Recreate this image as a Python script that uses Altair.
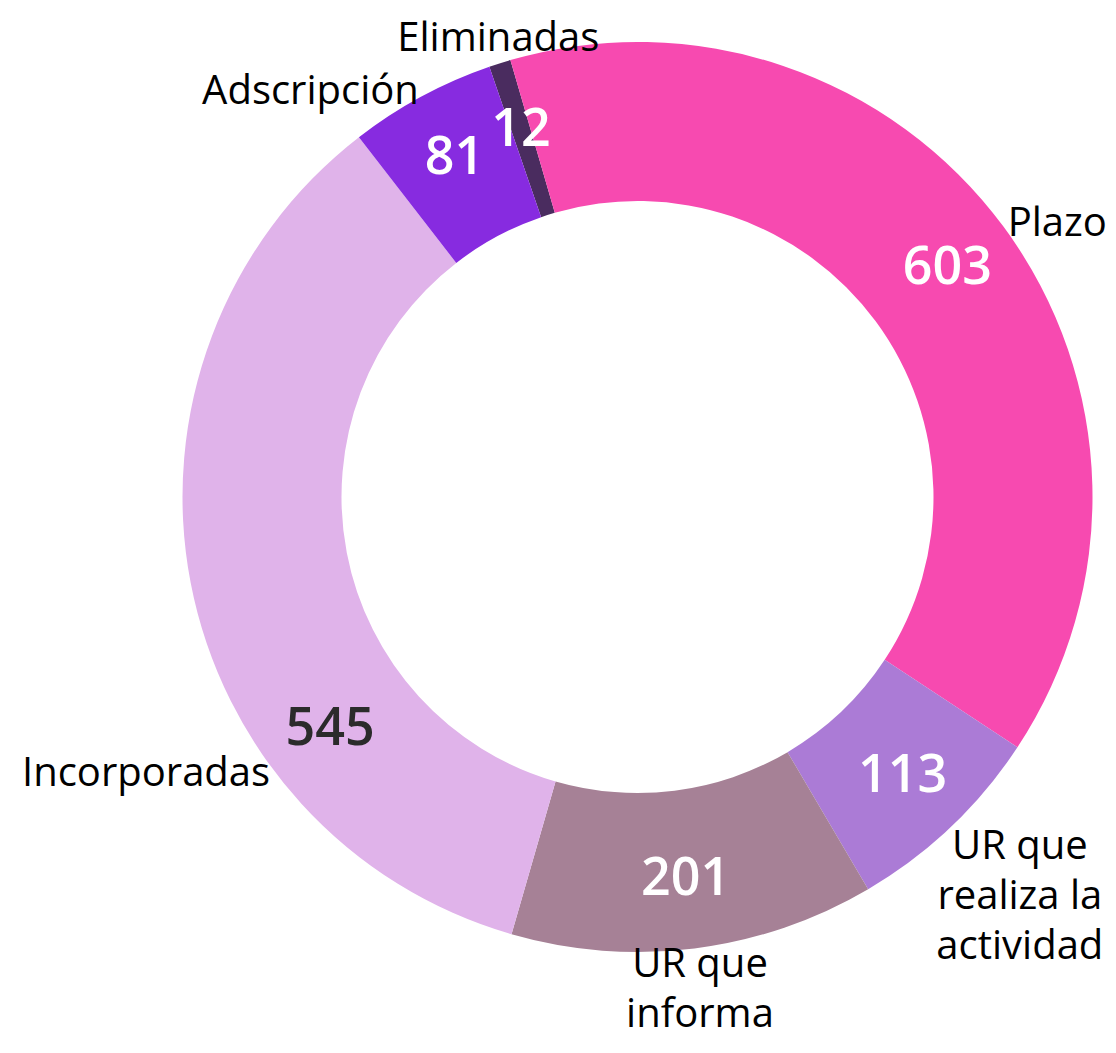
import math
import altair as alt
import pandas as pd

# ---- data ----
categories = ["Eliminadas", "Plazo", "UR que realiza la actividad",
              "UR que informa", "Incorporadas", "Adscripción"]
labels = ["Eliminadas", "Plazo", "UR que|realiza la|actividad",
          "UR que|informa", "Incorporadas", "Adscripción"]
values = [12, 603, 113, 201, 545, 81]
colors = ["#4A2C5F", "#F74AB0", "#AB7BD6", "#A68196", "#E0B3EA", "#872BE0"]

df = pd.DataFrame({
    "idx": list(range(len(categories))),
    "category": categories,
    "label": labels,
    "value": values,
})

# ---- layout ----
START = math.radians(-19)          # rotation of the first slice
CX, CY = 629.5, 489                # pie centre inside the view
R_OUT, R_IN = 455, 296
R_VAL, R_LAB, R_BOX = 385, 460, 444
# labels whose mid-angle falls near 9 o'clock are moved down-left (as in the reference)
LO, HI, MOVED = math.radians(240), math.radians(300), math.radians(233)

FONT = "Open Sans"
LAB_SIZE, LINE_H, CHAR_W = 40, 50, 20.5

base = alt.Chart(df).encode(x=alt.value(CX), y=alt.value(CY))

arcs = base.mark_arc(outerRadius=R_OUT, innerRadius=R_IN).encode(
    theta=alt.Theta("value:Q", stack=True,
                    scale=alt.Scale(range=[START, START + 2 * math.pi])),
    color=alt.Color("category:N",
                    scale=alt.Scale(domain=categories, range=colors),
                    legend=None),
    order=alt.Order("idx:Q"),
)

ang = (
    base.transform_window(cum="sum(value)", sort=[alt.SortField("idx")],
                          frame=[None, 0])
    .transform_joinaggregate(total="sum(value)")
    .transform_calculate(
        mid=f"{START} + 2*PI*(datum.cum - datum.value/2)/datum.total")
    .transform_calculate(
        ang=f"(datum.mid > {LO} && datum.mid < {HI}) ? {MOVED} : datum.mid")
    .transform_calculate(sx="sin(datum.ang)")
    .transform_calculate(cy="cos(datum.ang)")
    # text-box size estimate, used to keep multi-line labels clear of the ring
    .transform_calculate(nl="length(split(datum.label, '|'))")
    .transform_calculate(
        bw=f"(length(datum.label) - (datum.nl - 1)) / datum.nl * {CHAR_W}")
    .transform_calculate(bh=f"(datum.nl - 1) * {LINE_H} + {LAB_SIZE * 1.1}")
    .transform_calculate(
        rl=f"{R_BOX} + 0.5*datum.bw*abs(datum.sx) + 0.5*datum.bh*abs(datum.cy)")
    # top-centre of the box, back to polar form
    .transform_calculate(ox="datum.rl * datum.sx")
    .transform_calculate(oy="-datum.rl * datum.cy - datum.bh / 2")
    .transform_calculate(rt="sqrt(datum.ox*datum.ox + datum.oy*datum.oy)")
    .transform_calculate(at="atan2(datum.ox, -datum.oy)")
)

vals = ang.mark_text(radius=R_VAL, font=FONT, fontSize=52,
                     fontWeight=600).encode(
    theta=alt.Theta("ang:Q", scale=None),
    text=alt.Text("value:Q"),
    color=alt.condition("datum.category == 'Incorporadas'",
                        alt.value("#2B2B2B"), alt.value("white")),
)


def lab(test, align, baseline):
    return ang.transform_filter(test).mark_text(
        radius=R_LAB, align=align, baseline=baseline, font=FONT,
        fontSize=LAB_SIZE, lineBreak="|", lineHeight=LINE_H, color="black",
    ).encode(
        theta=alt.Theta("ang:Q", scale=None),
        text=alt.Text("label:N"),
    )


LOWER = "datum.cy < -0.5 && datum.sx > -0.35"

# labels in the lower part: box centred just outside the ring
lower = ang.transform_filter(LOWER).mark_text(
    align="center", baseline="top", font=FONT,
    fontSize=LAB_SIZE, lineBreak="|", lineHeight=LINE_H, color="black",
).encode(
    theta=alt.Theta("at:Q", scale=None),
    radius=alt.Radius("rt:Q", scale=None),
    text=alt.Text("label:N"),
)

labs = [
    lab(f"!({LOWER}) && datum.sx > 0.35", "left", "middle"),
    lab(f"!({LOWER}) && datum.sx < -0.35", "right", "middle"),
    lab(f"!({LOWER}) && abs(datum.sx) <= 0.35", "center", "bottom"),
    lower,
]

chart = (
    alt.layer(arcs, vals, *labs)
    .resolve_scale(theta="independent")
    .properties(width=1100, height=1036,
                autosize=alt.AutoSizeParams(type="none"), padding=0)
    .configure_view(stroke=None)
)

chart.save("out.html", embed_options={"renderer": "svg", "actions": False})
